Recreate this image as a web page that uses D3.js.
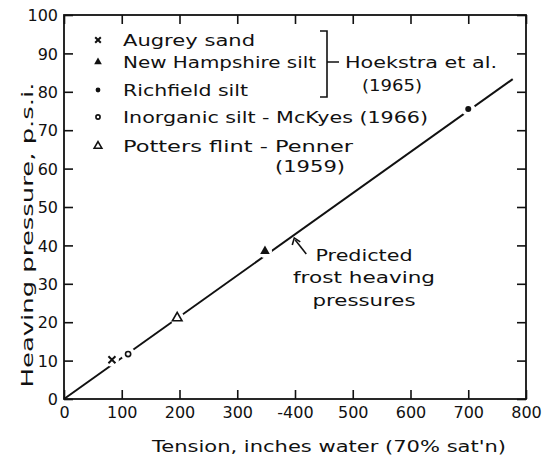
<!DOCTYPE html>
<html><head><meta charset="utf-8">
<script src="https://cdn.jsdelivr.net/npm/d3@7"></script>
<style>
body{margin:0;background:#fff;}
svg{display:block;}
text{font-family:"DejaVu Sans",sans-serif;fill:#111;}
</style></head>
<body><svg id="chart" width="547" height="456"></svg>
<script>
// ---- data ----
const xTicks = [0,100,200,300,400,500,600,700,800];
const xTickLabels = ["0","100","200","300","-400","500","600","700","800"];
const yTicks = [0,10,20,30,40,50,60,70,80,90,100];
const yTickLabels = ["0","10","20","30","40","50","60","70","80","90","100"];
const pointTension = [83, 111, 196, 348, 700];
const pointPressure = [10.2, 11.7, 21.1, 38.5, 75.5];
const pointSoil = ["Augrey sand","Inorganic silt","Potters flint","New Hampshire silt","Richfield silt"];
const lineTension = [0, 777];
const linePressure = [0, 83.3];
const legendLabels = ["Augrey sand","New Hampshire silt","Richfield silt","Inorganic silt - McKyes (1966)","Potters flint - Penner"];
const legendSoil = ["Augrey sand","New Hampshire silt","Richfield silt","Inorganic silt","Potters flint"];

const svg = d3.select("#chart");
const x = d3.scaleLinear().domain([0,800]).range([64,526]);
const y = d3.scaleLinear().domain([0,100]).range([399,15]);

// frame
svg.append("rect").attr("x",x(0)).attr("y",y(100)).attr("width",x(800)-x(0)).attr("height",y(0)-y(100))
  .attr("fill","none").attr("stroke","#111").attr("stroke-width",1.8);

function styleAxis(g){
  g.select(".domain").remove();
  g.selectAll(".tick line").attr("stroke","#111").attr("stroke-width",1.6);
  g.selectAll(".tick text").style("font-size","16px").style("font-family","DejaVu Sans").attr("fill","#111");
}
// bottom
svg.append("g").attr("transform",`translate(0,${y(0)})`)
  .call(d3.axisBottom(x).tickValues(xTicks).tickSizeInner(-9).tickSizeOuter(0).tickPadding(4)
    .tickFormat((d,i)=>xTickLabels[i]))
  .call(styleAxis)
  .call(g=>g.selectAll(".tick text").attr("dy","0.95em"));
// top
svg.append("g").attr("transform",`translate(0,${y(100)})`)
  .call(d3.axisTop(x).tickValues(xTicks).tickSizeInner(-9).tickSizeOuter(0).tickFormat(""))
  .call(styleAxis);
// left
svg.append("g").attr("transform",`translate(${x(0)},0)`)
  .call(d3.axisLeft(y).tickValues(yTicks).tickSizeInner(-9).tickSizeOuter(0).tickPadding(6)
    .tickFormat((d,i)=>yTickLabels[i]))
  .call(styleAxis)
  .call(g=>g.selectAll(".tick text").attr("dy","0.36em"));
// right
svg.append("g").attr("transform",`translate(${x(800)},0)`)
  .call(d3.axisRight(y).tickValues(yTicks).tickSizeInner(-9).tickSizeOuter(0).tickFormat(""))
  .call(styleAxis);

// predicted line
const lineData = lineTension.map((t,i)=>[t,linePressure[i]]);
svg.append("path").datum(lineData)
  .attr("d", d3.line().x(d=>x(d[0])).y(d=>y(d[1])))
  .attr("fill","none").attr("stroke","#111").attr("stroke-width",2);

// marker drawing
function drawMarker(g, type, cx, cy, s){
  s = s||1;
  if(type==="Augrey sand"){
    const r=3.5*s;
    g.append("path").attr("d",`M${cx-r},${cy-r}L${cx+r},${cy+r}M${cx-r},${cy+r}L${cx+r},${cy-r}`)
      .attr("stroke","#111").attr("stroke-width",2).attr("fill","none");
  } else if(type==="New Hampshire silt"){
    g.append("path").attr("d",d3.symbol(d3.symbolTriangle, 40*s*s)()).attr("transform",`translate(${cx},${cy})`).attr("fill","#111");
  } else if(type==="Richfield silt"){
    g.append("circle").attr("cx",cx).attr("cy",cy).attr("r",3*s).attr("fill","#111");
  } else if(type==="Inorganic silt"){
    g.append("circle").attr("cx",cx).attr("cy",cy).attr("r",2.6*s).attr("fill","#fff").attr("stroke","#111").attr("stroke-width",1.6);
  } else if(type==="Potters flint"){
    g.append("path").attr("d",d3.symbol(d3.symbolTriangle, 40*s*s)()).attr("transform",`translate(${cx},${cy})`)
      .attr("fill","#fff").attr("stroke","#111").attr("stroke-width",1.6);
  }
}

const pts = svg.append("g");
pointTension.forEach((t,i)=>{
  pts.append("circle").attr("cx",x(t)).attr("cy",y(pointPressure[i])).attr("r",7).attr("fill","#fff");
});
pointTension.forEach((t,i)=>{
  drawMarker(pts, pointSoil[i], x(t), y(pointPressure[i]), 1);
});

// legend
const legY = [40,62,90,117,146];
const legW = [132,193,125,305,230];
const leg = svg.append("g");
legendLabels.forEach((lab,i)=>{
  drawMarker(leg, legendSoil[i], 98, legY[i], 0.8);
  leg.append("text").attr("x",123).attr("y",legY[i]).attr("dy","0.35em")
    .style("font-size","16px").attr("textLength",legW[i]).attr("lengthAdjust","spacingAndGlyphs").text(lab);
});
leg.append("text").attr("x",275).attr("y",166).attr("dy","0.35em").style("font-size","16px")
  .attr("textLength",70).attr("lengthAdjust","spacingAndGlyphs").text("(1959)");
// bracket
leg.append("path").attr("d","M320,31L327,31L327,97L320,97M327,62L339,62")
  .attr("fill","none").attr("stroke","#111").attr("stroke-width",1.6);
leg.append("text").attr("x",345).attr("y",62).attr("dy","0.35em").style("font-size","16px")
  .attr("textLength",152).attr("lengthAdjust","spacingAndGlyphs").text("Hoekstra et al.");
leg.append("text").attr("x",362).attr("y",85).attr("dy","0.35em").style("font-size","16px")
  .attr("textLength",60).attr("lengthAdjust","spacingAndGlyphs").text("(1965)");

// annotation
const ann = svg.append("g");
const ax0 = x(397), ay0 = y(42.2);
ann.append("path").attr("d",`M${ax0+13},${ay0+17}L${ax0+2},${ay0+3}`)
  .attr("stroke","#111").attr("stroke-width",1.6).attr("fill","none");
ann.append("path").attr("d",`M${ax0-1},${ay0+8}L${ax0+1},${ay0+1}L${ax0+7},${ay0+5}`)
  .attr("stroke","#111").attr("stroke-width",1.6).attr("fill","none");
const annLines = ["Predicted","frost heaving","pressures"];
const annY = [255,277,300];
const annW = [97,142,103];
annLines.forEach((t,i)=>{
  ann.append("text").attr("x",364).attr("y",annY[i]).attr("dy","0.35em").attr("text-anchor","middle")
    .style("font-size","16px").attr("textLength",annW[i]).attr("lengthAdjust","spacingAndGlyphs").text(t);
});

// axis titles
svg.append("text").attr("x",329).attr("y",446).attr("dy","0.35em").attr("text-anchor","middle")
  .style("font-size","16px").attr("textLength",354).attr("lengthAdjust","spacingAndGlyphs")
  .text("Tension, inches water (70% sat'n)");
svg.append("text").attr("transform","translate(27,235) rotate(-90)").attr("dy","0.35em").attr("text-anchor","middle")
  .style("font-size","16px").attr("textLength",305).attr("lengthAdjust","spacingAndGlyphs")
  .text("Heaving pressure, p.s.i.");
</script></body></html>
